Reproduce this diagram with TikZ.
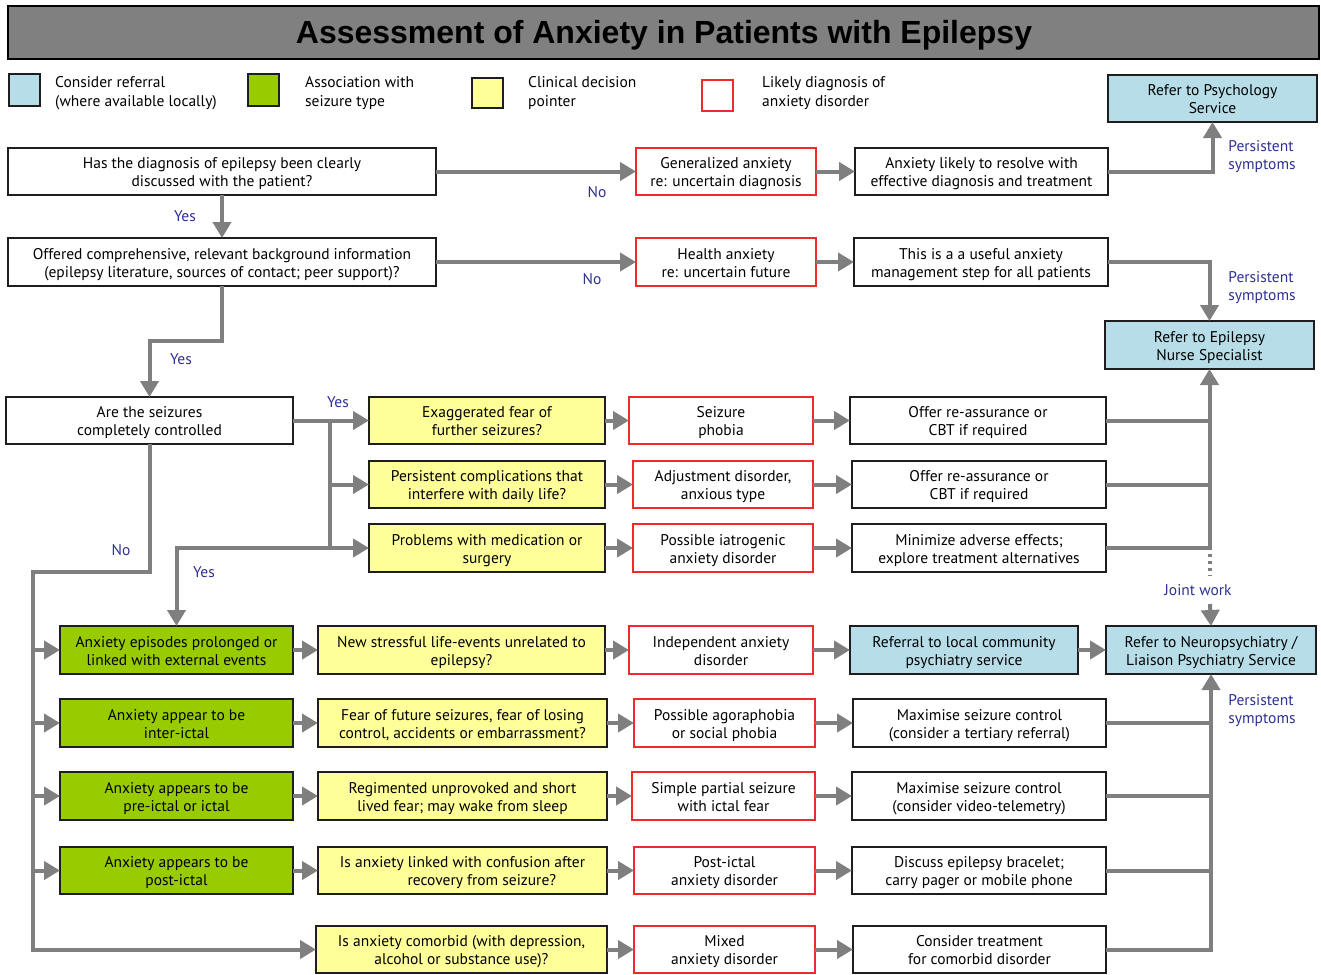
\documentclass[tikz,border=0pt]{standalone}
\usepackage{fontspec}
\setmainfont{PT Sans}
\newfontfamily\titlefont{Liberation Sans}
\usetikzlibrary{arrows.meta,calc}
\definecolor{cblue}{HTML}{B7DEE8}
\definecolor{cgreen}{HTML}{99CC00}
\definecolor{cyellow}{HTML}{FFFF99}
\definecolor{cred}{HTML}{EE2A2A}
\definecolor{cnavy}{HTML}{2E3192}
\definecolor{cgray}{HTML}{808080}
\definecolor{cline}{HTML}{7F7F7F}
\definecolor{cborder}{HTML}{1E1E1E}
\newcommand\bx[7]{\node[#1, minimum width={(#5-#3)*1pt}, minimum height={(#6-#4)*1pt}] (#2) at ({(#3+#5)/2},{(#4+#6)/2}) {\raisebox{-2.5pt}[\height][\depth]{\begin{tabular}{@{}c@{}}#7\end{tabular}}};}
\tikzset{
  base/.style={inner sep=0pt, outer sep=0pt, align=center, font=\fontsize{15.5}{18}\selectfont, line width=2pt},
  wbox/.style={base, draw=cborder, fill=white},
  bbox/.style={base, draw=cborder, fill=cblue},
  gbox/.style={base, draw=cborder, fill=cgreen},
  ybox/.style={base, draw=cborder, fill=cyellow},
  rbox/.style={base, draw=cred, fill=white},
  lbl/.style={text=cnavy, inner sep=0pt, align=left, font=\fontsize{15.5}{18}\selectfont},
  legtxt/.style={inner sep=0pt, align=left, anchor=west, font=\fontsize{15.5}{19}\selectfont},
  conn/.style={draw=cline, line width=4pt},
  arr/.style={conn, -{Triangle[length=16pt,width=18pt]}},
}
\begin{document}
\begin{tikzpicture}[x=1pt,y=-1pt]
\useasboundingbox (0,0) rectangle (1321,974);
% title
\bx{base, draw=black, fill=cgray}{title}{8}{6}{1319}{59}{}
\node[inner sep=0pt, font=\titlefont\bfseries\fontsize{32}{36}\selectfont] (ttext) at (664,35) {Assessment of Anxiety in Patients with Epilepsy};
% legend
\bx{base, draw=cborder, fill=cblue}{lg1}{9}{74}{40}{106}{}
\node[legtxt] (lt1) at (55,93) {Consider referral\\(where available locally)};
\bx{base, draw=cborder, fill=cgreen}{lg2}{248}{74}{279}{106}{}
\node[legtxt] (lt2) at (305,93) {Association with\\seizure type};
\bx{base, draw=cborder, fill=cyellow}{lg3}{472}{78}{503}{108}{}
\node[legtxt] (lt3) at (528,93) {Clinical decision\\pointer};
\bx{base, draw=cred, fill=white}{lg4}{702}{80}{733}{111}{}
\node[legtxt] (lt4) at (762,93) {Likely diagnosis of\\anxiety disorder};
% top rows
\bx{bbox}{psych}{1108}{75}{1317}{122}{Refer to Psychology\\Service}
\bx{wbox}{q1}{8}{148}{436}{195}{Has the diagnosis of epilepsy been clearly\\discussed with the patient?}
\bx{rbox}{gen}{636}{148}{816}{195}{Generalized anxiety\\re: uncertain diagnosis}
\bx{wbox}{res}{855}{148}{1108}{195}{Anxiety likely to resolve with\\effective diagnosis and treatment}
\bx{wbox}{q2}{8}{238}{436}{286}{Offered comprehensive, relevant background information\\(epilepsy literature, sources of contact; peer support)?}
\bx{rbox}{hea}{636}{238}{816}{286}{Health anxiety\\re: uncertain future}
\bx{wbox}{use}{854}{238}{1108}{286}{This is a a useful anxiety\\management step for all patients}
\bx{bbox}{nurse}{1105}{321}{1314}{369}{Refer to Epilepsy\\Nurse Specialist}
% controlled block
\bx{wbox}{q3}{6}{397}{293}{444}{Are the seizures\\completely controlled}
\bx{ybox}{ex}{369}{397}{605}{444}{Exaggerated fear of\\further seizures?}
\bx{ybox}{pc}{369}{461}{605}{508}{Persistent complications that\\interfere with daily life?}
\bx{ybox}{pm}{369}{524}{605}{572}{Problems with medication or\\surgery}
\bx{rbox}{sp}{629}{397}{813}{444}{Seizure\\phobia}
\bx{rbox}{ad}{633}{461}{813}{508}{Adjustment disorder,\\anxious type}
\bx{rbox}{ia}{633}{524}{813}{572}{Possible iatrogenic\\anxiety disorder}
\bx{wbox}{of1}{850}{397}{1106}{444}{Offer re-assurance or\\CBT if required}
\bx{wbox}{of2}{852}{461}{1106}{508}{Offer re-assurance or\\CBT if required}
\bx{wbox}{mn}{852}{524}{1106}{572}{Minimize adverse effects;\\explore treatment alternatives}
% lower block
\bx{gbox}{g1}{60}{626}{293}{674}{Anxiety episodes prolonged or\\linked with external events}
\bx{gbox}{g2}{60}{699}{293}{747}{Anxiety appear to be\\inter-ictal}
\bx{gbox}{g3}{60}{772}{293}{820}{Anxiety appears to be\\pre-ictal or ictal}
\bx{gbox}{g4}{60}{847}{293}{894}{Anxiety appears to be\\post-ictal}
\bx{ybox}{y1}{318}{626}{605}{674}{New stressful life-events unrelated to\\epilepsy?}
\bx{ybox}{y2}{318}{699}{607}{747}{Fear of future seizures, fear of losing\\control, accidents or embarrassment?}
\bx{ybox}{y3}{318}{772}{607}{820}{Regimented unprovoked and short\\lived fear; may wake from sleep}
\bx{ybox}{y4}{318}{847}{607}{894}{Is anxiety linked with confusion after\\\hspace*{2.5em}recovery from seizure?}
\bx{ybox}{y5}{316}{926}{607}{973}{Is anxiety comorbid (with depression,\\alcohol or substance use)?}
\bx{rbox}{r1}{629}{626}{813}{674}{Independent anxiety\\disorder}
\bx{rbox}{r2}{634}{699}{815}{747}{Possible agoraphobia\\or social phobia}
\bx{rbox}{r3}{632}{772}{815}{820}{Simple partial seizure\\with ictal fear}
\bx{rbox}{r4}{634}{847}{815}{894}{Post-ictal\\anxiety disorder}
\bx{rbox}{r5}{634}{926}{815}{973}{Mixed\\anxiety disorder}
\bx{bbox}{loc}{850}{626}{1078}{674}{Referral to local community\\psychiatry service}
\bx{wbox}{w2}{853}{699}{1106}{747}{Maximise seizure control\\(consider a tertiary referral)}
\bx{wbox}{w3}{852}{772}{1106}{820}{Maximise seizure control\\(consider video-telemetry)}
\bx{wbox}{w4}{852}{847}{1106}{894}{Discuss epilepsy bracelet;\\carry pager or mobile phone}
\bx{wbox}{w5}{853}{926}{1106}{973}{Consider treatment\\for comorbid disorder}
\bx{bbox}{neuro}{1106}{626}{1316}{674}{Refer to Neuropsychiatry /\\Liaison Psychiatry Service}
% coordinates
\coordinate (jt) at (330,421);
\coordinate (jb) at (330,548);
\coordinate (nobend) at (33,572);
\coordinate (dotA) at (1210,554);
\coordinate (dotB) at (1210,576);
\coordinate (jw) at (1210,604);
% connectors top
\draw[arr] (q1.east) -- (gen.west);
\draw[arr] (gen.east) -- (res.west);
\draw[arr] (res.east) -| (psych.south);
\draw[arr] (q1.south) -- (q2.north);
\draw[arr] (q2.east) -- (hea.west);
\draw[arr] (hea.east) -- (use.west);
\draw[arr] (use.east) -| (nurse.north);
\draw[arr] (q2.south) -- ++(0,55) -| (q3.north);
% controlled
\draw[arr] (q3.east) -- (ex.west);
\draw[conn] (jt) -- (jb);
\draw[arr] (pc.west -| jt) -- (pc.west);
\draw[arr] (jb) -- (pm.west);
\draw[arr] (jb) -| (g1.north);
\draw[arr] (ex.east) -- (sp.west);
\draw[arr] (pc.east) -- (ad.west);
\draw[arr] (pm.east) -- (ia.west);
\draw[arr] (sp.east) -- (of1.west);
\draw[arr] (ad.east) -- (of2.west);
\draw[arr] (ia.east) -- (mn.west);
\draw[conn] (of1.east) -- (of1.east -| nurse.south);
\draw[conn] (of2.east) -- (of2.east -| nurse.south);
\draw[arr] (mn.east) -| (nurse.south);
\draw[draw=cline, line width=3.5pt, dash pattern=on 3pt off 4pt] (dotA) -- (dotB);
\draw[arr] (jw) -- (neuro.north);
% No branch
\draw[arr] (q3.south) |- (nobend) |- (y5.west);
\draw[arr] (g1.west -| nobend) -- (g1.west);
\draw[arr] (g2.west -| nobend) -- (g2.west);
\draw[arr] (g3.west -| nobend) -- (g3.west);
\draw[arr] (g4.west -| nobend) -- (g4.west);
% lower rows
\draw[arr] (g1.east) -- (y1.west);
\draw[arr] (g2.east) -- (y2.west);
\draw[arr] (g3.east) -- (y3.west);
\draw[arr] (g4.east) -- (y4.west);
\draw[arr] (y1.east) -- (r1.west);
\draw[arr] (y2.east) -- (r2.west);
\draw[arr] (y3.east) -- (r3.west);
\draw[arr] (y4.east) -- (r4.west);
\draw[arr] (y5.east) -- (r5.west);
\draw[arr] (r1.east) -- (loc.west);
\draw[arr] (r2.east) -- (w2.west);
\draw[arr] (r3.east) -- (w3.west);
\draw[arr] (r4.east) -- (w4.west);
\draw[arr] (r5.east) -- (w5.west);
\draw[arr] (loc.east) -- (neuro.west);
\draw[conn] (w2.east) -- (w2.east -| neuro.south);
\draw[conn] (w3.east) -- (w3.east -| neuro.south);
\draw[conn] (w4.east) -- (w4.east -| neuro.south);
\draw[arr] (w5.east) -| (neuro.south);
% labels
\node[lbl] (l1) at (597,192) {No};
\node[lbl] (l2) at (592,279) {No};
\node[lbl] (l3) at (121,550) {No};
\node[lbl] (l4) at (185,216) {Yes};
\node[lbl] (l5) at (181,359) {Yes};
\node[lbl] (l6) at (338,402) {Yes};
\node[lbl] (l7) at (204,572) {Yes};
\node[lbl] (l8) at (1262,157) {Persistent\\symptoms};
\node[lbl] (l9) at (1262,288) {Persistent\\symptoms};
\node[lbl] (l10) at (1262,711) {Persistent\\symptoms};
\node[lbl] (l11) at (1198,590) {Joint work};
\end{tikzpicture}
\end{document}
